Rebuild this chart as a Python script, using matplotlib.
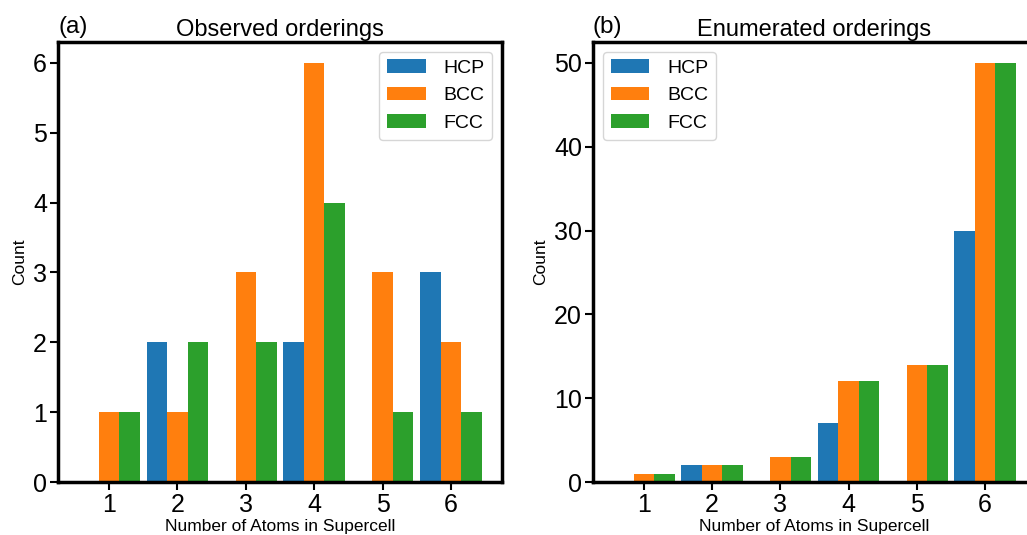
import numpy as np
import matplotlib.pyplot as plt

plt.rcParams['font.family'] = ['Liberation Sans', 'DejaVu Sans']

n_atoms = [1, 2, 3, 4, 5, 6]
structures = ['HCP', 'BCC', 'FCC']

# observed orderings
obs_hcp = [0, 2, 0, 2, 0, 3]
obs_bcc = [1, 1, 3, 6, 3, 2]
obs_fcc = [1, 2, 2, 4, 1, 1]

# enumerated orderings
enum_hcp = [0, 2, 0, 7, 0, 30]
enum_bcc = [1, 2, 3, 12, 14, 50]
enum_fcc = [1, 2, 3, 12, 14, 50]

colors = ['#1f77b4', '#ff7f0e', '#2ca02c']


def draw_panel(ax, series, title, tag, legend_loc):
    x = np.array(n_atoms)
    w = 0.3
    for i, (vals, name) in enumerate(zip(series, structures)):
        ax.bar(x + (i - 1) * w, vals, width=w, color=colors[i], label=name)
    ax.set_xticks(x)
    ax.set_xlabel('Number of Atoms in Supercell', fontsize=12.5, labelpad=1)
    ax.set_ylabel('Count', fontsize=12.5)
    ax.set_title(title, fontsize=17, pad=4)
    ax.text(0.0, 1.01, tag, transform=ax.transAxes, fontsize=17.5,
            ha='left', va='bottom')
    ax.tick_params(labelsize=18, length=6, width=1.5, pad=2)
    for s in ax.spines.values():
        s.set_linewidth(2.5)
    ax.legend(loc=legend_loc, fontsize=14, handlelength=2.0,
              handletextpad=0.9)


fig = plt.figure(figsize=(10.27, 5.35), dpi=100)
ax1 = fig.add_axes([58 / 1027, 1 - 482 / 535, 444 / 1027, 440 / 535])
ax2 = fig.add_axes([593 / 1027, 1 - 482 / 535, 443 / 1027, 440 / 535])

draw_panel(ax1, [obs_hcp, obs_bcc, obs_fcc], 'Observed orderings', '(a)', 'upper right')
draw_panel(ax2, [enum_hcp, enum_bcc, enum_fcc], 'Enumerated orderings', '(b)', 'upper left')

fig.savefig('out.png', dpi=100)
